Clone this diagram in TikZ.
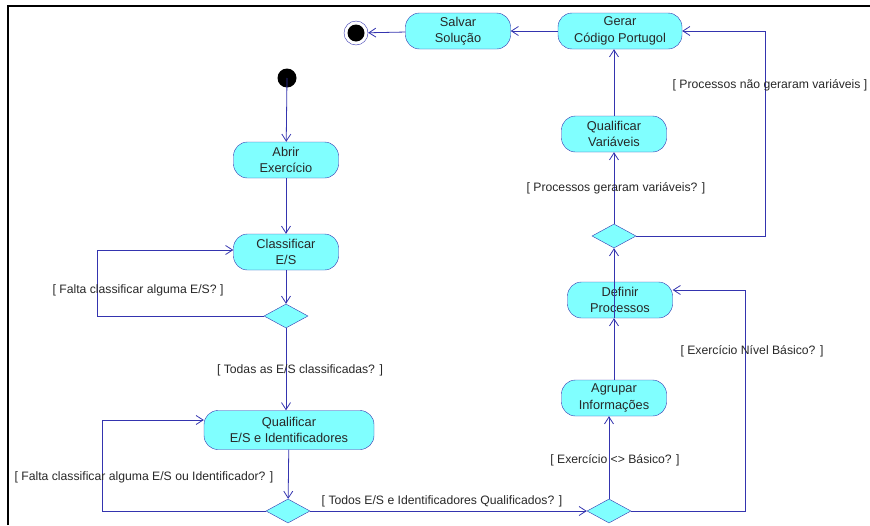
\documentclass[tikz,border=0pt]{standalone}
\usepackage{fontspec}
\setmainfont{Liberation Sans}
\usetikzlibrary{arrows.meta,shapes.geometric}
\definecolor{umlline}{RGB}{52,52,175}
\definecolor{umlfill}{RGB}{128,255,255}
\definecolor{guardtext}{RGB}{40,40,40}
\tikzset{
  activity/.style={draw=umlline, fill=umlfill, rounded corners=14pt, minimum width=105pt,
    minimum height=36pt, inner sep=0pt, align=center, text=guardtext,
    font=\fontsize{12.8}{16.5}\selectfont},
  decision/.style={draw=umlline, fill=umlfill, diamond, inner sep=0pt,
    minimum width=44pt, minimum height=24pt},
  guard/.style={text=guardtext, inner sep=0pt, font=\fontsize{12.2}{14}\selectfont},
  flow/.style={->, umlline, line width=0.8pt}
}
\begin{document}
\begin{tikzpicture}[x=1pt, y=-1pt, >={Straight Barb[length=7pt,width=9pt]}]
\useasboundingbox (0,0) rectangle (870,525);

% ----- Frame -----
\draw[line width=2.2pt] (8,525) -- (8,6) -- (870,6);

% ----- Initial and final nodes -----
\fill[black] (287,78) circle (9.5pt) coordinate (start);
\node[circle, draw=umlline, fill=white, minimum size=24pt, inner sep=0pt] (fim) at (356,33) {};
\fill[black] (fim) circle (8.5pt);

% ----- Activities -----
\node[activity] (abrir)   at (286,160) {Abrir\\Exercício};
\node[activity] (classif) at (286,252) {Classificar\\E/S};
\node[activity, minimum width=170pt, minimum height=39pt] (qualif) at (289,430) {Qualificar\\E/S e Identificadores};
\node[activity] (agrupar) at (614,398) {Agrupar\\Informações};
\node[activity] (definir) at (620,300) {Definir\\Processos};
\node[activity] (qualvar) at (614,134) {Qualificar\\Variáveis};
\node[activity, minimum width=124pt] (gerar) at (620,31) {Gerar\\Código Portugol};
\node[activity] (salvar)  at (458,31) {Salvar\\Solução};

% ----- Decisions -----
\node[decision] (dclassif) at (286,316) {};
\node[decision] (dqualif)  at (288,511) {};
\node[decision] (dnivel)   at (609,511) {};
\node[decision] (dvars)    at (614,236) {};

% ----- Flows -----
\draw[flow] (start) -- (abrir);
\draw[flow] (abrir) -- (classif);
\draw[flow] (classif) -- (dclassif);
\draw[flow] (dclassif.west) -- ++(-166,0) |- ([yshift=2pt]classif.west);
\draw[flow] (dclassif) -- (dclassif |- qualif.north);
\draw[flow] (qualif) -- (dqualif);
\draw[flow] (dqualif.west) -- ++(-163,0) |- ([yshift=10pt]qualif.west);
\draw[flow] (dqualif) -- (dnivel);
\draw[flow] (dnivel) -- (dnivel |- agrupar.south);
\draw[flow] (dnivel.east) -- ++(114,0) |- ([yshift=10pt]definir.east);
\draw[flow] (agrupar) -- (agrupar |- definir.south);
\draw[flow] (definir.south -| dvars) -- (dvars);
\draw[flow] (dvars) -- (qualvar);
\draw[flow] (dvars.east) -- ++(129,0) |- (gerar.east);
\draw[flow] (qualvar) -- (qualvar |- gerar.south);
\draw[flow] (gerar) -- (salvar);
\draw[flow] (salvar) -- (fim);

% ----- Guards -----
\node[guard] (gfalta)   at (138,290) {[ Falta classificar alguma E/S? ]};
\node[guard] (gtodas)   at (300,370) {[ Todas as E/S classificadas? ]};
\node[guard] (gfaltaid) at (144,477) {[ Falta classificar alguma E/S ou Identificador? ]};
\node[guard] (gtodos)   at (442,501) {[ Todos E/S e Identificadores Qualificados? ]};
\node[guard] (gdif)     at (615,460) {[ Exercício <> Básico? ]};
\node[guard] (gbasico)  at (752,351) {[ Exercício Nível Básico? ]};
\node[guard] (ggeraram) at (616,188) {[ Processos geraram variáveis? ]};
\node[guard] (gnao)     at (770,85)  {[ Processos não geraram variáveis ]};
\end{tikzpicture}
\end{document}
